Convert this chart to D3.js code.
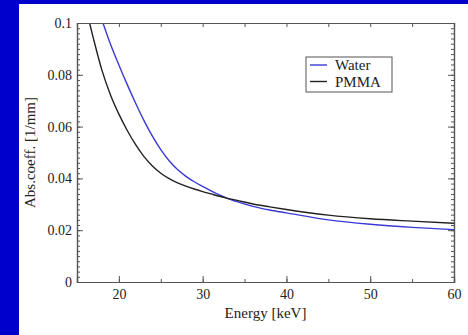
<!DOCTYPE html>
<html>
<head>
<meta charset="utf-8">
<script src="https://cdn.jsdelivr.net/npm/d3@7/dist/d3.min.js"></script>
<style>
  html, body { margin: 0; padding: 0; background: #ffffff; overflow: hidden; }
  svg { display: block; }
</style>
</head>
<body>
<svg id="chart" width="468" height="335"></svg>
<script>
// Absorption coefficient vs photon energy
const energyWater = [18.1, 19, 20, 21, 22, 23, 24, 25, 26, 27, 28, 29, 30, 31, 32, 33, 34, 36, 38, 40, 45, 50, 55, 60];
const water       = [0.1000, 0.0918, 0.0838, 0.0762, 0.0690, 0.0623, 0.0563, 0.0511, 0.0468, 0.0434, 0.0408, 0.0387, 0.0369, 0.0352, 0.0336, 0.0322, 0.0311, 0.0292, 0.0278, 0.0267, 0.0240, 0.0223, 0.0211, 0.0202];
const energyPMMA  = [16.5, 17, 18, 19, 20, 21, 22, 23, 24, 25, 26, 27, 28, 29, 30, 31, 32, 33, 34, 36, 38, 40, 45, 50, 55, 60];
const pmma        = [0.1000, 0.0935, 0.0815, 0.0722, 0.0648, 0.0585, 0.0530, 0.0484, 0.0448, 0.0420, 0.0399, 0.0383, 0.0370, 0.0359, 0.0349, 0.0340, 0.0331, 0.0323, 0.0316, 0.0301, 0.0290, 0.0280, 0.0258, 0.0244, 0.0235, 0.0227];
const seriesNames = ["Water", "PMMA"];
const seriesColors = ["#3a3ad6", "#222222"];
const xTicks = [20, 30, 40, 50, 60];
const yTicks = [0, 0.02, 0.04, 0.06, 0.08, 0.1];
const yTickLabels = ["0", "0.02", "0.04", "0.06", "0.08", "0.1"];

const svg = d3.select("#chart");
const W = 468, H = 335;
const m = { left: 77, top: 23, right: 454, bottom: 282 };

// blue frame strips on the left and top
svg.append("rect").attr("x", 0).attr("y", 0).attr("width", W).attr("height", 4).attr("fill", "#0000cc");
svg.append("rect").attr("x", 0).attr("y", 0).attr("width", 19).attr("height", H).attr("fill", "#0000cc");

const x = d3.scaleLinear().domain([15, 60]).range([m.left, m.right]);
const y = d3.scaleLinear().domain([0, 0.1]).range([m.bottom, m.top]);

const axisColor = "#555";
const font = "'Liberation Serif', 'Times New Roman', serif";

svg.append("clipPath").attr("id", "clip")
  .append("rect").attr("x", m.left).attr("y", m.top)
  .attr("width", m.right - m.left).attr("height", m.bottom - m.top);

// curves
const data = [
  energyWater.map((e, i) => [e, water[i]]),
  energyPMMA.map((e, i) => [e, pmma[i]])
];
const line = d3.line().x(d => x(d[0])).y(d => y(d[1])).curve(d3.curveMonotoneX);
svg.append("g").attr("clip-path", "url(#clip)")
  .selectAll("path").data(data).join("path")
  .attr("d", line).attr("fill", "none")
  .attr("stroke", (d, i) => seriesColors[i]).attr("stroke-width", 1.4);

// axes with inward ticks
function styleAxis(g) {
  g.select(".domain").attr("stroke", axisColor).attr("stroke-width", 1.2);
  g.selectAll(".tick line").attr("stroke", axisColor);
  g.selectAll("text").attr("font-family", font).attr("font-size", 14).attr("fill", "#222");
}
const xMinor = d3.range(15, 60.01, 5);
const yMinor = d3.range(0, 0.1001, 0.002);

// bottom
svg.append("g").attr("transform", `translate(0,${m.bottom})`)
  .call(d3.axisBottom(x).tickValues(xMinor).tickSize(-3).tickFormat(""))
  .call(styleAxis);
svg.append("g").attr("transform", `translate(0,${m.bottom})`)
  .call(d3.axisBottom(x).tickValues(xTicks).tickSize(-6).tickPadding(7).tickFormat(d3.format("d")))
  .call(styleAxis);
// top
svg.append("g").attr("transform", `translate(0,${m.top})`)
  .call(d3.axisTop(x).tickValues(xMinor).tickSize(-4).tickFormat(""))
  .call(styleAxis);
// left
svg.append("g").attr("transform", `translate(${m.left},0)`)
  .call(d3.axisLeft(y).tickValues(yMinor).tickSize(-3).tickFormat(""))
  .call(styleAxis);
svg.append("g").attr("transform", `translate(${m.left},0)`)
  .call(d3.axisLeft(y).tickValues(yTicks).tickSize(-6).tickPadding(5).tickFormat((d, i) => yTickLabels[i]))
  .call(styleAxis);
// right
svg.append("g").attr("transform", `translate(${m.right},0)`)
  .call(d3.axisRight(y).tickValues(yMinor).tickSize(-3).tickFormat(""))
  .call(styleAxis);
svg.append("g").attr("transform", `translate(${m.right},0)`)
  .call(d3.axisRight(y).tickValues(yTicks).tickSize(-6).tickFormat(""))
  .call(styleAxis);

// axis titles
svg.append("text").attr("x", (m.left + m.right) / 2).attr("y", 318)
  .attr("text-anchor", "middle").attr("font-family", font).attr("font-size", 15).attr("fill", "#222")
  .text("Energy [keV]");
svg.append("text").attr("transform", `translate(35,${(m.top + m.bottom) / 2}) rotate(-90)`)
  .attr("text-anchor", "middle").attr("font-family", font).attr("font-size", 15).attr("fill", "#222")
  .text("Abs.coeff. [1/mm]");

// legend
const lg = svg.append("g");
lg.append("rect").attr("x", 306).attr("y", 57).attr("width", 86).attr("height", 35)
  .attr("fill", "#fff").attr("stroke", axisColor).attr("stroke-width", 1);
seriesNames.forEach((name, i) => {
  const ly = 65 + i * 16.5;
  lg.append("line").attr("x1", 310).attr("x2", 327).attr("y1", ly).attr("y2", ly)
    .attr("stroke", seriesColors[i]).attr("stroke-width", 1.4);
  lg.append("text").attr("x", 335).attr("y", ly + 5).attr("font-family", font)
    .attr("font-size", 15).attr("fill", "#222").text(name);
});
</script>
</body>
</html>
